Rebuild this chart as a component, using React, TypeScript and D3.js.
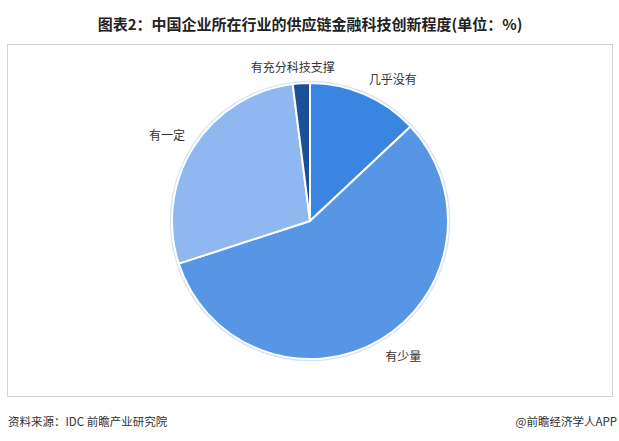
import { useEffect, useRef } from 'react';
import * as d3 from 'd3';

const categories = ['几乎没有', '有少量', '有一定', '有充分科技支撑'];
const values = [13, 57, 28, 2];
const colors = ['#3a85e2', '#5796e4', '#8fb8f0', '#1c4f98'];

const title = '图表2：中国企业所在行业的供应链金融科技创新程度(单位：%)';
const source = '资料来源：IDC 前瞻产业研究院';
const credit = '@前瞻经济学人APP';

const W = 619;
const H = 441;
const FONT = '"Noto Sans CJK SC", "Noto Sans", sans-serif';

export default function App() {
  const svgRef = useRef<SVGSVGElement>(null);

  useEffect(() => {
    const svg = d3.select(svgRef.current);
    svg.selectAll('*').remove();

    svg.append('rect').attr('width', W).attr('height', H).attr('fill', '#fff');

    // title
    svg.append('text')
      .attr('x', 310)
      .attr('y', 23)
      .attr('text-anchor', 'middle')
      .attr('dominant-baseline', 'central')
      .style('font-family', FONT)
      .style('font-size', '15px')
      .style('font-weight', 700)
      .style('fill', '#222')
      .text(title);

    // frame
    svg.append('rect')
      .attr('x', 7.5).attr('y', 44.5)
      .attr('width', 605).attr('height', 352)
      .attr('fill', 'none')
      .attr('stroke', '#d4d4d4')
      .attr('stroke-width', 1);

    // faint watermarks
    const marks = [[110, 150], [450, 175], [260, 330], [520, 335]];
    marks.forEach(([x, y]) => {
      svg.append('text')
        .attr('transform', `translate(${x},${y}) rotate(-28)`)
        .attr('text-anchor', 'middle')
        .style('font-family', FONT)
        .style('font-size', '20px')
        .style('font-weight', 700)
        .style('fill', '#000')
        .style('fill-opacity', 0.025)
        .text('前瞻产业研究院');
    });

    const cx = 310, cy = 221, r = 138;
    const g = svg.append('g').attr('transform', `translate(${cx},${cy})`);

    const pie = d3.pie<number>().sort(null).value(d => d);
    const arcs = pie(values);
    const arc = d3.arc<d3.PieArcDatum<number>>().innerRadius(0).outerRadius(r);

    g.append('circle')
      .attr('r', r + 1)
      .attr('fill', 'none')
      .attr('stroke', '#d3e3f8')
      .attr('stroke-width', 2.5);

    g.selectAll('path.slice')
      .data(arcs)
      .enter().append('path')
      .attr('class', 'slice')
      .attr('d', arc)
      .attr('fill', (_, i) => colors[i])
      .attr('stroke', '#fff')
      .attr('stroke-width', 2)
      .attr('stroke-linejoin', 'round');

    // labels placed outside the slice, box pushed away from the anchor point
    const anchorR = r + 10;
    const lh = 14;
    g.selectAll('text.lbl')
      .data(arcs)
      .enter().append('text')
      .attr('class', 'lbl')
      .attr('text-anchor', 'middle')
      .attr('dominant-baseline', 'central')
      .style('font-family', FONT)
      .style('font-size', '12px')
      .style('fill', '#333')
      .text((_, i) => categories[i])
      .each(function (d) {
        const el = this as SVGTextElement;
        const w = el.getComputedTextLength();
        const a = (d.startAngle + d.endAngle) / 2;
        const s = Math.sin(a), c = Math.cos(a);
        const ax = s * anchorR, ay = -c * anchorR;
        const x = ax + Math.sign(s) * Math.min(1, 3 * Math.abs(s)) * w / 2;
        const y = ay - Math.sign(c) * Math.min(1, 3 * Math.abs(c)) * lh / 2;
        d3.select(el).attr('x', x).attr('y', y);
      });

    // footer
    svg.append('text')
      .attr('x', 8).attr('y', 421)
      .attr('dominant-baseline', 'central')
      .style('font-family', FONT)
      .style('font-size', '11.5px')
      .style('fill', '#333')
      .text(source);

    svg.append('text')
      .attr('x', 617).attr('y', 421)
      .attr('text-anchor', 'end')
      .attr('dominant-baseline', 'central')
      .style('font-family', FONT)
      .style('font-size', '11.5px')
      .style('fill', '#333')
      .text(credit);
  }, []);

  return (
    <div style={{ position: 'absolute', left: 0, top: 0 }}>
      <svg ref={svgRef} width={W} height={H} style={{ display: 'block' }} />
    </div>
  );
}
